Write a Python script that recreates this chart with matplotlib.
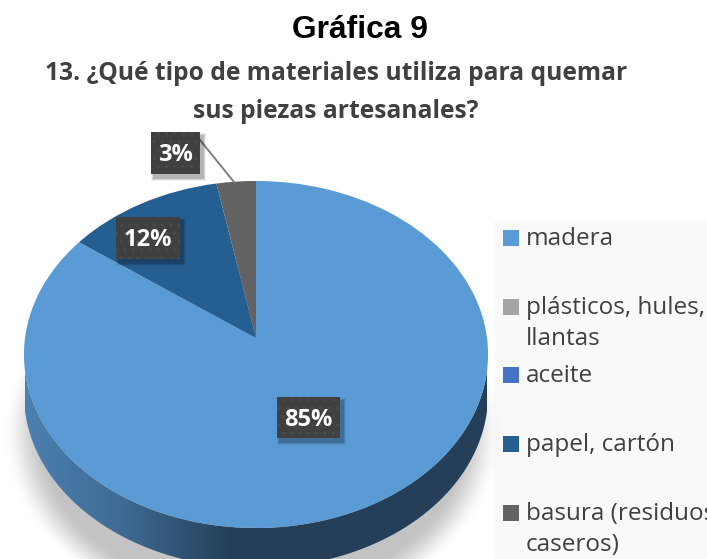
import numpy as np
import matplotlib
matplotlib.use("Agg")
import matplotlib.pyplot as plt
from matplotlib.path import Path
from matplotlib.patches import Rectangle, PathPatch
from matplotlib.transforms import Transform
from matplotlib.colors import LinearSegmentedColormap

title = "Gráfica 9"
subtitle = ["13. ¿Qué tipo de materiales utiliza para quemar", "sus piezas artesanales?"]
categories = ["madera", "plásticos, hules,\nllantas", "aceite", "papel, cartón", "basura (residuos\ncaseros)"]
values = [85, 0, 0, 12, 3]
colors = ["#5B9BD5", "#A5A5A5", "#4472C4", "#255E91", "#636363"]

W, H = 707, 559
fig = plt.figure(figsize=(W / 100, H / 100), dpi=100, facecolor="white")
ax = fig.add_axes([0, 0, 1, 1])


class Perspective(Transform):
    """Tilted-disc projection of the unit pie into pixel coordinates."""
    input_dims = output_dims = 2
    def __init__(self, dy=0):
        super().__init__()
        self.dy = dy
    def transform_non_affine(self, xy):
        xy = np.asarray(xy, float)
        d = 1 + 0.0951 * xy[:, 1]
        return np.column_stack([256 + 231 * xy[:, 0] / d, self.dy + (338 - 139.8 * xy[:, 1]) / d])
    def transform_path_non_affine(self, path):
        return Path(self.transform_non_affine(path.vertices), path.codes)


wedges, _ = ax.pie(values, colors=colors, startangle=90, counterclock=False, radius=1,
                   wedgeprops=dict(linewidth=0))
ax.set_aspect("auto")
ax.set_xlim(0, W)
ax.set_ylim(H, 0)
ax.axis("off")
for w in wedges:
    w.set_transform(Perspective() + ax.transData)
    w.set_zorder(5)

# legend background
ax.add_patch(Rectangle((494, 221), W - 494, H - 221, fc="#F9F9F9", ec="none", zorder=1))

# soft shadow below the pie
yy, xx = np.mgrid[0:H, 0:W]
r = np.hypot((xx - 252) / 250, (yy - 432) / 190)
t = np.clip((1.0 - r) / 0.17, 0, 1)
alpha = t * t * (3 - 2 * t) * 0.38
shadow = np.zeros((H, W, 4))
shadow[..., :3] = 0.38
shadow[..., 3] = alpha
ax.imshow(shadow, extent=(0, W, H, 0), zorder=2, aspect="auto", interpolation="bilinear")

# side wall with a horizontal gradient
DEPTH = 40
th = np.linspace(np.pi, 2 * np.pi, 200)
unit = np.column_stack([np.cos(th), np.sin(th)])
low = Perspective(DEPTH).transform_non_affine(unit)
th2 = np.linspace(2 * np.pi, np.pi, 200)
up = Perspective(0).transform_non_affine(np.column_stack([np.cos(th2), np.sin(th2)]))
wall = Path(np.vstack([low, up, low[:1]]), closed=False)
cm = LinearSegmentedColormap.from_list("w", [(0, "#4B80B0"), (0.2, "#3F6C96"), (0.45, "#243F57"), (1, "#243F57")])
grad = np.linspace(0, 1, 462)[None, :]
im = ax.imshow(grad, extent=(25, 487, H + 30, 300), cmap=cm, aspect="auto", zorder=3)
clip = PathPatch(wall, fc="none", ec="none", transform=ax.transData)
ax.add_patch(clip)
im.set_clip_path(clip)
ax.set_xlim(0, W)
ax.set_ylim(H, 0)

# leader line of the smallest slice
ax.plot([200, 234], [140, 182], color="#7F7F7F", lw=1.4, zorder=6)

# data labels
label_boxes = {0: (277, 397, 63, 41), 3: (151, 132, 49, 42), 4: None}
label_boxes = {0: (277, 397, 63, 41), 3: (116, 217, 64, 42), 4: (151, 132, 49, 42)}
for i, (x, y, w, h) in label_boxes.items():
    for k, a in ((6, 0.06), (4, 0.10), (2, 0.16)):
        ax.add_patch(Rectangle((x + 3 - k / 2, y + 4 - k / 2), w + k, h + k, fc="black", alpha=a, ec="none", zorder=7))
    ax.add_patch(Rectangle((x, y), w, h, fc="#404040", ec="#4A4A4A", hatch="..", lw=0, zorder=8))
    ax.text(x + w / 2, y + h / 2 + 2, f"{values[i]}%", color="white", fontsize=17, fontweight="bold",
            family="Open Sans", ha="center", va="center", zorder=9)

# legend
legend_y = [238, 307, 375, 444, 513]
for name, c, y in zip(categories, colors, legend_y):
    ax.add_patch(Rectangle((503, y - 8), 16, 16, fc=c, ec="none", zorder=4))
    ax.text(526, y - 11, name, color="#404040", fontsize=17.5, family="Open Sans", ha="left", va="top",
            linespacing=1.38, zorder=4, clip_on=True)

# titles
ax.text(360, 30, title, fontsize=22.9, fontweight="bold", family="Liberation Sans", ha="center", va="center", color="black")
ax.text(336, 74, subtitle[0], fontsize=17.7, fontweight="bold", family="Open Sans", ha="center", va="center", color="#404040")
ax.text(336, 111, subtitle[1], fontsize=17.7, fontweight="bold", family="Open Sans", ha="center", va="center", color="#404040")

fig.savefig("out.png", dpi=100, facecolor="white")
